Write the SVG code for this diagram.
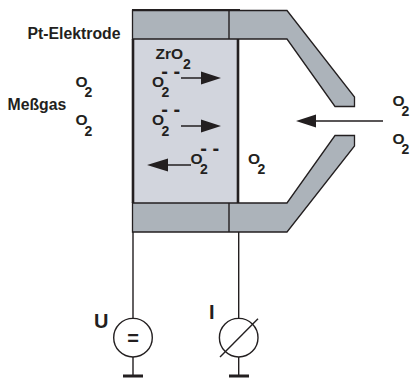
<svg xmlns="http://www.w3.org/2000/svg" width="411" height="379" viewBox="0 0 411 379">
<style>
text{font-family:"Liberation Sans",Arial,sans-serif;font-weight:bold;font-size:15.500px;fill:#231f20}
.n{font-size:15.800px}
.s{font-size:14px}
.c{font-size:20px}
.u{font-size:20px}
.b{fill:#acb3ba;stroke:#231f20;stroke-width:1.3;stroke-linejoin:miter}
.l{fill:none;stroke:#231f20;stroke-width:1.4}
.h{fill:#231f20;stroke:none}
</style>
<g id="zirconia"><rect x="133" y="39" width="105" height="164" fill="#d2d5dd"/><path d="M133 39V203M238 39V203" fill="none" stroke="#231f20" stroke-width="2.6"/></g>
<g id="electrode-top"><path class="b" d="M132.500 10.500H287L354.500 97V106.500H335L287 39H132.500Z"/><path class="l" d="M229 10V39"/><path d="M132 10H240" stroke="#231f20" stroke-width="1.800"/></g>
<g id="electrode-bottom"><path class="b" d="M132.500 203H287L335 135.500H354.500V146L287 232H132.500Z"/><path class="l" d="M229 203V232"/></g>
<g id="connectors">
<path class="l" d="M133 232V318.500M133 357V376M238.700 232V318.500M238.700 357V376"/>
<path d="M123 376H143M229 376H249" stroke="#231f20" stroke-width="3"/>
<path class="l" d="M181 78H203M181 126H202M191 165H167M383 121H315"/>
<path class="h" d="M221 78L201 71.500V84.500ZM221 126L201 119.500V132.500ZM147 165L168 158.500V171.500ZM296 121L316 114.500V127.500Z"/>
</g>
<g id="source-u"><circle class="l" cx="133" cy="337.700" r="19.300"/><text x="127.200" y="345" style="font-size:20px">=</text></g>
<g id="meter-i"><circle class="l" cx="238.700" cy="337.700" r="19.300"/><path class="l" d="M220 357L258 318.700"/></g>
<g id="labels">
<text class="n" x="27.500" y="39">Pt-Elektrode</text>
<text class="n" x="7.500" y="110">Meßgas</text>
<text x="155.500" y="59">ZrO<tspan class="s" x="183" y="69">2</tspan></text>
<text x="75.500" y="87">O<tspan class="s" x="84.500" y="97">2</tspan></text>
<text x="75.500" y="125">O<tspan class="s" x="84.500" y="135.500">2</tspan></text>
<text x="152" y="87">O<tspan class="s" x="161.500" y="97">2</tspan><tspan class="c" x="161.300" y="78">- -</tspan></text>
<text x="152" y="125">O<tspan class="s" x="161.500" y="135.500">2</tspan><tspan class="c" x="161.300" y="116.300">- -</tspan></text>
<text x="190.500" y="164">O<tspan class="s" x="200" y="174">2</tspan><tspan class="c" x="200.300" y="155.300">- -</tspan></text>
<text x="248" y="164">O<tspan class="s" x="257.500" y="174">2</tspan></text>
<text x="392.500" y="106">O<tspan class="s" x="401.500" y="115.500">2</tspan></text>
<text x="392.500" y="144">O<tspan class="s" x="401.500" y="154">2</tspan></text>
<text class="u" x="94" y="328">U</text>
<text class="u" x="209" y="319">I</text>
</g>
</svg>
